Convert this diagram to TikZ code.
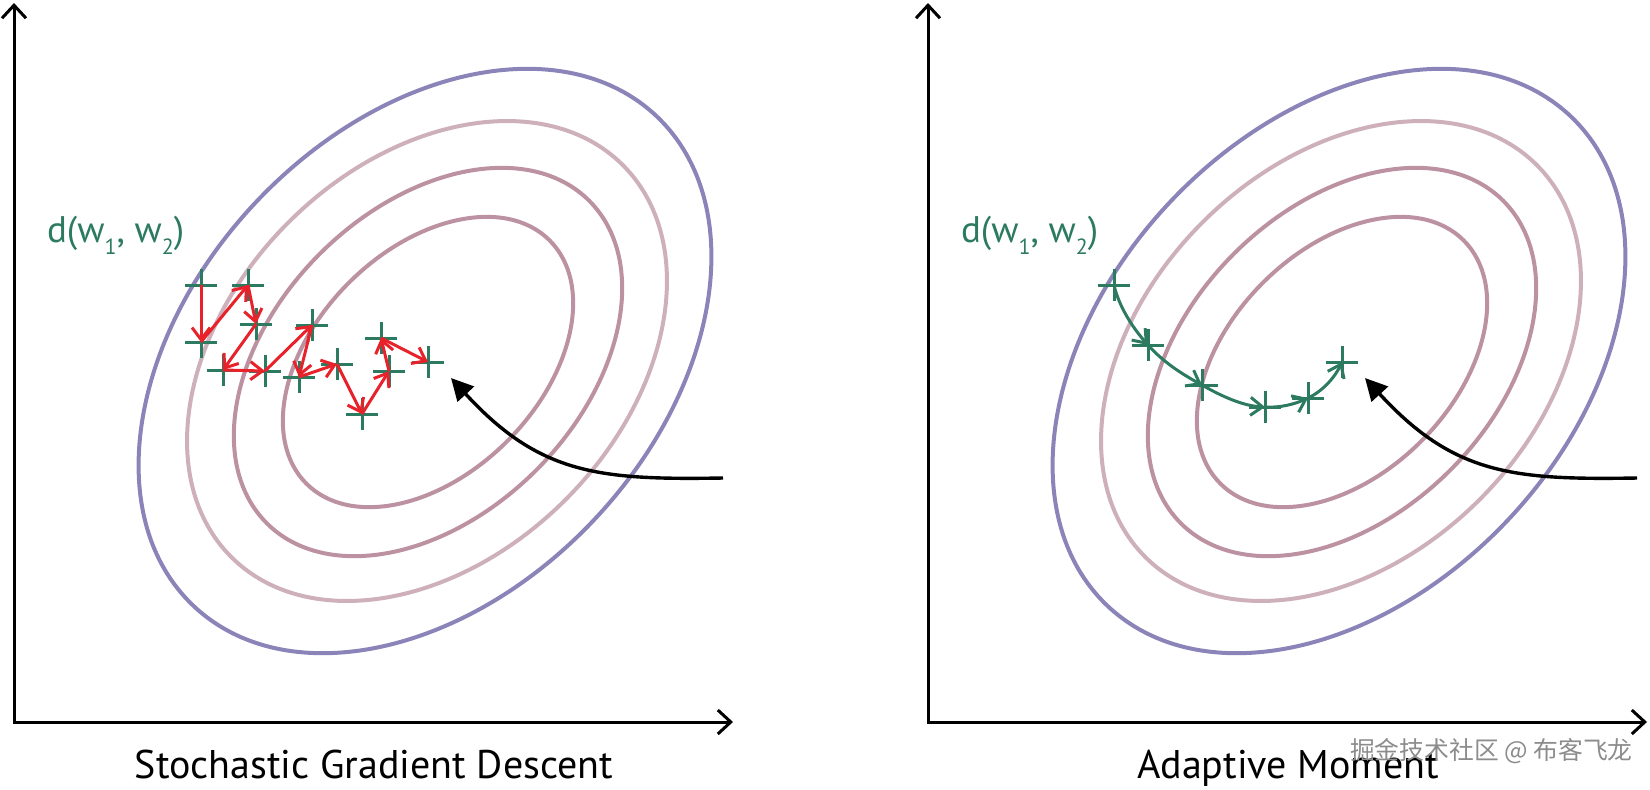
\documentclass[tikz,border=0pt]{standalone}
\usepackage{fontspec}
\setmainfont{PT Sans}
\newfontfamily\cjk{Noto Sans CJK SC}
\usetikzlibrary{arrows.meta,shapes.misc}

\definecolor{ringblue}{RGB}{138,132,184}
\definecolor{ringpink}{RGB}{188,146,162}
\definecolor{ringlight}{RGB}{206,176,187}
\definecolor{pathgreen}{RGB}{44,122,96}
\definecolor{stepred}{RGB}{232,34,42}
\newcommand{\wsub}[1]{\raisebox{-0.7ex}{\fontsize{11}{11}\selectfont #1}}

\begin{document}
\begin{tikzpicture}[x=0.5pt, y=-0.5pt,
    axis/.style={line width=1.5pt, {Straight Barb[length=6.5pt,width=12pt]}-{Straight Barb[length=6.5pt,width=12pt]}},
    outerring/.style={draw=ringblue, line width=2pt},
    lightring/.style={draw=ringlight, line width=2pt},
    innerring/.style={draw=ringpink, line width=2pt},
    wpoint/.style={shape=cross out, draw=pathgreen, line width=1.5pt, rotate=45, minimum size=9.5pt, inner sep=0pt},
    sgdstep/.style={draw=stepred, line width=1.5pt, -{Straight Barb[length=6pt,width=9pt]}},
    adamstep/.style={draw=pathgreen, line width=1.5pt, -{Straight Barb[length=6pt,width=9pt]}},
    hint/.style={line width=1.7pt, -{Triangle[length=11pt,width=11pt]}},
    dlabel/.style={text=pathgreen, font=\fontsize{18.5}{22}\selectfont, anchor=base west},
    title/.style={font=\fontsize{20}{24}\selectfont, anchor=base}]
    \useasboundingbox (0,0) rectangle (1650,789);

    % Axes
    \coordinate (o1) at (14,722);
    \coordinate (y1) at (14,3);
    \coordinate (x1) at (733,722);
    \draw[axis] (y1) -- (o1) -- (x1);
    \coordinate (o2) at (928,722);
    \draw[axis] (928,3) -- (o2) -- (1647,722);

    % Contours, left
    \draw[outerring, rotate around={46.6:(425,361)}] (425,361) ellipse [x radius=337, y radius=232];
    \draw[lightring, rotate around={45:(427,361)}] (427,361) ellipse [x radius=277, y radius=196];
    \draw[innerring, rotate around={45:(428,362)}] (428,362) ellipse [x radius=228, y radius=153];
    \draw[innerring, rotate around={45:(428,362)}] (428,362) ellipse [x radius=172, y radius=112];

    % Contours, right
    \draw[outerring, rotate around={46.6:(1339,361)}] (1339,361) ellipse [x radius=337, y radius=232];
    \draw[lightring, rotate around={45:(1341,361)}] (1341,361) ellipse [x radius=277, y radius=196];
    \draw[innerring, rotate around={45:(1342,362)}] (1342,362) ellipse [x radius=228, y radius=153];
    \draw[innerring, rotate around={45:(1342,362)}] (1342,362) ellipse [x radius=172, y radius=112];

    % Pointer to the minimum
    \coordinate (h1) at (723,478);
    \coordinate (t1) at (451,378);
    \draw[hint] (h1) .. controls +(-123,2) and +(89,97) .. (t1);
    \coordinate (h2) at (1637,478);
    \coordinate (t2) at (1365,378);
    \draw[hint] (h2) .. controls +(-123,2) and +(89,97) .. (t2);

    % SGD steps
    \node[wpoint] (s1) at (201,285) {};
    \node[wpoint] (s2) at (248,285) {};
    \node[wpoint] (s3) at (201,342) {};
    \node[wpoint] (s4) at (256,324) {};
    \node[wpoint] (s5) at (223,370) {};
    \node[wpoint] (s6) at (265,371) {};
    \node[wpoint] (s7) at (312,325) {};
    \node[wpoint] (s8) at (299,377) {};
    \node[wpoint] (s9) at (337,364) {};
    \node[wpoint] (s10) at (362,414) {};
    \node[wpoint] (s11) at (389,371) {};
    \node[wpoint] (s12) at (381,338) {};
    \node[wpoint] (s13) at (428,362) {};
    \draw[sgdstep] (s1.center) -- (s3.center);
    \draw[sgdstep] (s3.center) -- (s2.center);
    \draw[sgdstep] (s2.center) -- (s4.center);
    \draw[sgdstep] (s4.center) -- (s5.center);
    \draw[sgdstep] (s5.center) -- (s6.center);
    \draw[sgdstep] (s6.center) -- (s7.center);
    \draw[sgdstep] (s7.center) -- (s8.center);
    \draw[sgdstep] (s8.center) -- (s9.center);
    \draw[sgdstep] (s9.center) -- (s10.center);
    \draw[sgdstep] (s10.center) -- (s11.center);
    \draw[sgdstep] (s11.center) -- (s12.center);
    \draw[sgdstep] (s12.center) -- (s13.center);

    % Adam steps
    \node[wpoint] (a1) at (1114,285) {};
    \node[wpoint] (a2) at (1148,345) {};
    \node[wpoint] (a3) at (1202,385) {};
    \node[wpoint] (a4) at (1265,407) {};
    \node[wpoint] (a5) at (1308,398) {};
    \node[wpoint] (a6) at (1342,362) {};
    \draw[adamstep] (a1.center) .. controls +(5,22) and +(-15,-17) .. (a2.center);
    \draw[adamstep] (a2.center) .. controls +(15,17) and +(-20,-11) .. (a3.center);
    \draw[adamstep] (a3.center) .. controls +(19,11) and +(-22,-1) .. (a4.center);
    \draw[adamstep] (a4.center) .. controls +(15,1) and +(-13,6) .. (a5.center);
    \draw[adamstep] (a5.center) .. controls +(15,-7) and +(-7,15) .. (a6.center);

    % Labels
    \node[dlabel] (d1) at (40,242) {d(w\wsub{1}, w\wsub{2})};
    \node[dlabel] (d2) at (954,242) {d(w\wsub{1}, w\wsub{2})};
    \node[title] (cap1) at (374,778) {Stochastic Gradient Descent};
    \node[title] (cap2) at (1288,778) {Adaptive Moment};
    \node[anchor=base west, text=black!45, font=\cjk\fontsize{12.4}{13}\selectfont] (wm) at (1343,759) {掘金技术社区 @ 布客飞龙};
\end{tikzpicture}
\end{document}
